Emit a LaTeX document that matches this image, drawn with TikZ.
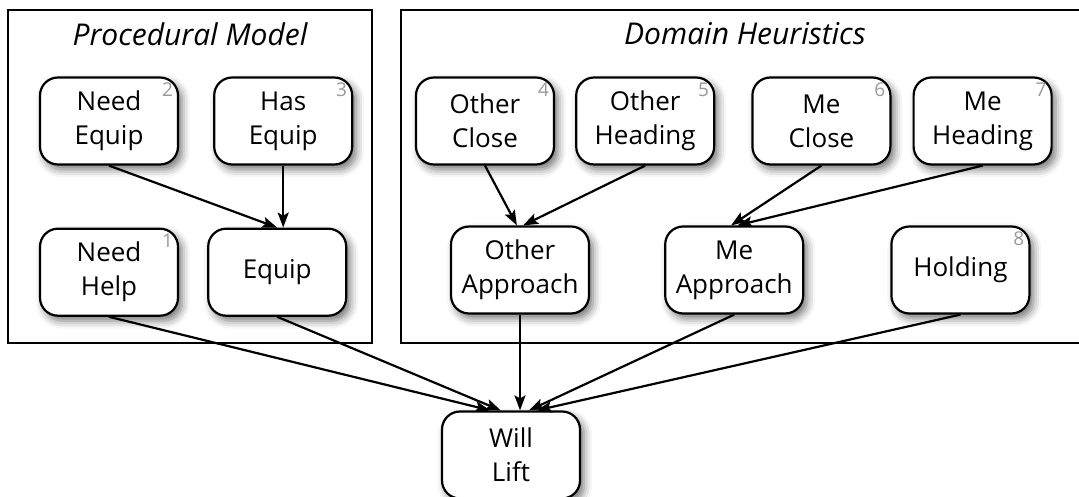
\documentclass[tikz,border=0pt]{standalone}
\usepackage{fontspec}
\setmainfont{Open Sans}
\usetikzlibrary{positioning}
\usetikzlibrary{arrows,arrows.meta}
\usetikzlibrary{shadows.blur}
\tikzset{every edge/.style={ % connectors between the variables
			draw,
			-{Stealth[length=15pt,width=11pt,inset=3pt]},
			line width=2.2pt}}
\tikzset{var/.style={draw, line width=2.2pt, rounded corners=18pt, fill=white,
			align=center, minimum width=138pt, minimum height=87pt,
			font=\fontsize{26}{34}\selectfont,
			blur shadow={shadow xshift=4pt, shadow yshift=-5pt, shadow blur radius=8pt, shadow opacity=55}},
		num/.style={label={[anchor=north east, inner sep=6pt, text=gray!80, font=\fontsize{19}{19}\selectfont]north east:#1}},
		panel/.style={line width=2.8pt},
		title/.style={font=\fontsize{30}{30}\selectfont\itshape}}

\begin{document}
\begin{tikzpicture}[x=1pt,y=1pt]
			\useasboundingbox (0,0) rectangle (1079,497);
			\draw[panel] (8,487) rectangle (372,154);
			\draw[panel] (401,487) rectangle (1085,154);
			\node[title] (PM) at (190,463) {Procedural Model};
			\node[title] (DH) at (745,463) {Domain Heuristics};
			
			\node [var, num=2] (NE) at (109,376) {Need\\Equip};
			\node [var, num=3, right=34pt of NE] (HE) {Has\\Equip};
			\node [var, num=1, below=62pt of NE] (NH) {Need\\Help};
			\node [var, right=28pt of NH] (EQ) {Equip};
			
			\node [var, num=4] (OC) at (485,376) {Other\\Close};
			\node [var, num=5, right=20pt of OC] (OH) {Other\\Heading};
			\node [var, num=6, right=36pt of OH] (MC) {Me\\Close};
			\node [var, num=7, right=21pt of MC] (MH) {Me\\Heading};
			\node [var] (OA) at (520,227) {Other\\Approach};
			\node [var, right=74pt of OA] (MA) {Me\\Approach};
			\node [var, num=8, right=86pt of MA] (HO) {Holding};
			
			\node [var] (WL) at (511,42) {Will\\Lift};
			
			\draw (NE.south) edge (EQ.north) (HE.south) edge (HE.south |- EQ.north);
			\draw (OC.south) edge (OA.94) (OH.south) edge (OA.86);
			\draw (MC.south) edge (MA.94) (MH.south) edge (MA.86);
			\draw (NH.south) edge (WL.115) (EQ.south) edge (WL.103)
				(OA.south) edge (OA.south |- WL.north)
				(MA.south) edge (WL.68) (HO.south) edge (WL.60);
		\end{tikzpicture}
\end{document}
